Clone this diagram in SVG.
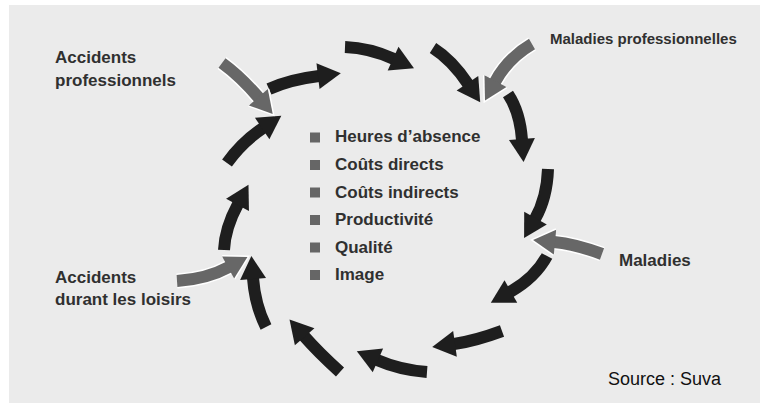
<svg xmlns="http://www.w3.org/2000/svg" width="760" height="403" viewBox="0 0 760 403">
<style>
.lbl{font-family:"Liberation Sans",Arial,sans-serif;font-weight:bold;font-size:17px;fill:#303030}
.src{font-family:"Liberation Sans",Arial,sans-serif;font-size:18px;fill:#111}
.blk{fill:none;stroke:#1e1e1e;stroke-width:12;marker-end:url(#hb)}
.gry{fill:none;stroke:#676767;stroke-width:12;marker-end:url(#hg)}
.halo{fill:none;stroke:#fff;stroke-width:15}
.sq{fill:#666}
</style>
<defs>
<marker id="hb" markerUnits="userSpaceOnUse" viewBox="-2 -14 26 28" markerWidth="26" markerHeight="28" refX="0" refY="0" orient="auto" overflow="visible">
<path d="M-1,-13 L22,0 L-1,13 Z" fill="#1e1e1e"/>
</marker>
<marker id="hg" markerUnits="userSpaceOnUse" viewBox="-2 -14 26 28" markerWidth="26" markerHeight="28" refX="0" refY="0" orient="auto" overflow="visible">
<path d="M-1,-12.5 L21,0 L-1,12.5" fill="none" stroke="#fff" stroke-width="3" stroke-linejoin="miter"/>
<path d="M-1,-12.5 L21,0 L-1,12.5 Z" fill="#676767"/>
</marker>
</defs>
<rect x="9" y="5" width="751" height="398" fill="#ebebeb"/>
<g id="connectors">
<path class="blk" d="M269,89 Q290,79.5 319,76"/>
<path class="blk" d="M345,47 Q370,48 394,59"/>
<path class="blk" d="M433,48 Q452,60 468,84"/>
<path class="blk" d="M508,94 Q520,112 522,140"/>
<path class="blk" d="M548,169 Q547,198 535,219"/>
<path class="blk" d="M547,256 Q535,278 510,292"/>
<path class="blk" d="M502,331 Q475,341 454,344"/>
<path class="blk" d="M427,372 Q400,370 377,360"/>
<path class="blk" d="M340,372 Q318,352 304,336"/>
<path class="blk" d="M266,327 Q255,305 253,278"/>
<path class="blk" d="M224,250 Q225,228 238,204"/>
<path class="blk" d="M227,163 Q242,142 263,128"/>
<path class="halo" d="M222,63 Q240,76 259,98"/>
<path class="gry" d="M222,63 Q240,76 259,98"/>
<path class="halo" d="M532,44 Q508,58 495,82"/>
<path class="gry" d="M532,44 Q508,58 495,82"/>
<path class="halo" d="M602,254 Q575,244 554,242"/>
<path class="gry" d="M602,254 Q575,244 554,242"/>
<path class="halo" d="M177,281 Q207,279 229,267"/>
<path class="gry" d="M177,281 Q207,279 229,267"/>
</g>
<g id="label-accidents-professionnels">
<text class="lbl" x="55" y="63">Accidents</text>
<text class="lbl" x="55" y="86">professionnels</text>
</g>
<g id="label-maladies-professionnelles">
<text class="lbl" x="550" y="44" style="font-size:15px">Maladies professionnelles</text>
</g>
<g id="label-maladies">
<text class="lbl" x="619" y="266">Maladies</text>
</g>
<g id="label-accidents-loisirs">
<text class="lbl" x="55" y="283">Accidents</text>
<text class="lbl" x="55" y="305">durant les loisirs</text>
</g>
<g id="center-list">
<rect class="sq" x="310" y="132.5" width="10" height="10"/>
<text class="lbl" x="335" y="142.3">Heures d’absence</text>
<rect class="sq" x="310" y="160" width="10" height="10"/>
<text class="lbl" x="335" y="170">Coûts directs</text>
<rect class="sq" x="310" y="187.5" width="10" height="10"/>
<text class="lbl" x="335" y="197.5">Coûts indirects</text>
<rect class="sq" x="310" y="215" width="10" height="10"/>
<text class="lbl" x="335" y="225">Productivité</text>
<rect class="sq" x="310" y="242.5" width="10" height="10"/>
<text class="lbl" x="335" y="252.7">Qualité</text>
<rect class="sq" x="310" y="270" width="10" height="10"/>
<text class="lbl" x="335" y="280">Image</text>
</g>
<g id="source">
<text class="src" x="608" y="385">Source : Suva</text>
</g>
</svg>
